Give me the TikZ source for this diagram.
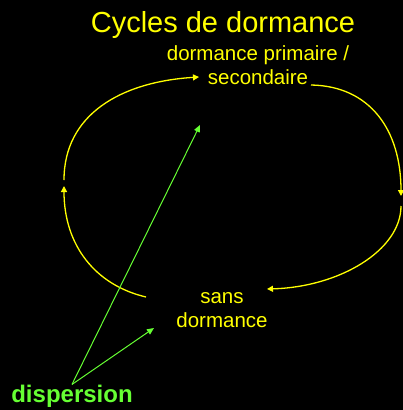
\documentclass[tikz,border=0pt]{standalone}
\usepackage{fontspec}
\setmainfont{Liberation Sans}
\usetikzlibrary{arrows.meta}
\definecolor{ylw}{RGB}{255,255,0}
\definecolor{grn}{RGB}{102,255,51}
\begin{document}
\begin{tikzpicture}[x=1pt,y=-1pt,
  lbl/.style={text=ylw,inner sep=0pt,align=center,font=\fontsize{20.5}{23.5}\selectfont},
  cyc/.style={draw=ylw,line width=1.3pt,-{Triangle[width=6pt,length=6pt]}},
  disp/.style={draw=grn,line width=1pt,-{Triangle[width=6pt,length=7pt]}}]
\fill[black] (0,0) rectangle (403,410);
\useasboundingbox (0,0) rectangle (403,410);
\node[text=ylw,inner sep=0pt,anchor=base,font=\fontsize{29}{34}\selectfont] (title) at (223,32) {Cycles de dormance};
\node[lbl,anchor=base] (dps) at (258,84) {dormance primaire /\\secondaire};
\node[lbl,anchor=base] (sd) at (222,327) {sans\\dormance};
\node[text=grn,inner sep=0pt,anchor=base,font=\fontsize{24}{28}\bfseries\selectfont] (dis) at (72,402) {dispersion};
\coordinate (a1s) at (146,297);
\coordinate (a1e) at (64,186);
\coordinate (a2s) at (64,180);
\coordinate (a2e) at (199,77);
\coordinate (a3s) at (311,85);
\coordinate (a3e) at (401,196);
\coordinate (a4s) at (401,206);
\coordinate (a4e) at (267,289);
\coordinate (g1) at (200,125);
\coordinate (g2) at (154,328);
\draw[cyc] (a1s) .. controls (95,285) and (64,245) .. (a1e);
\draw[cyc] (a2s) .. controls (64,115) and (120,82) .. (a2e);
\draw[cyc] (a3s) .. controls (370,86) and (401,130) .. (a3e);
\draw[cyc] (a4s) .. controls (401,250) and (340,287) .. (a4e);
\draw[disp] (dis.north) -- (g1);
\draw[disp] (dis.north) -- (g2);
\end{tikzpicture}
\end{document}
